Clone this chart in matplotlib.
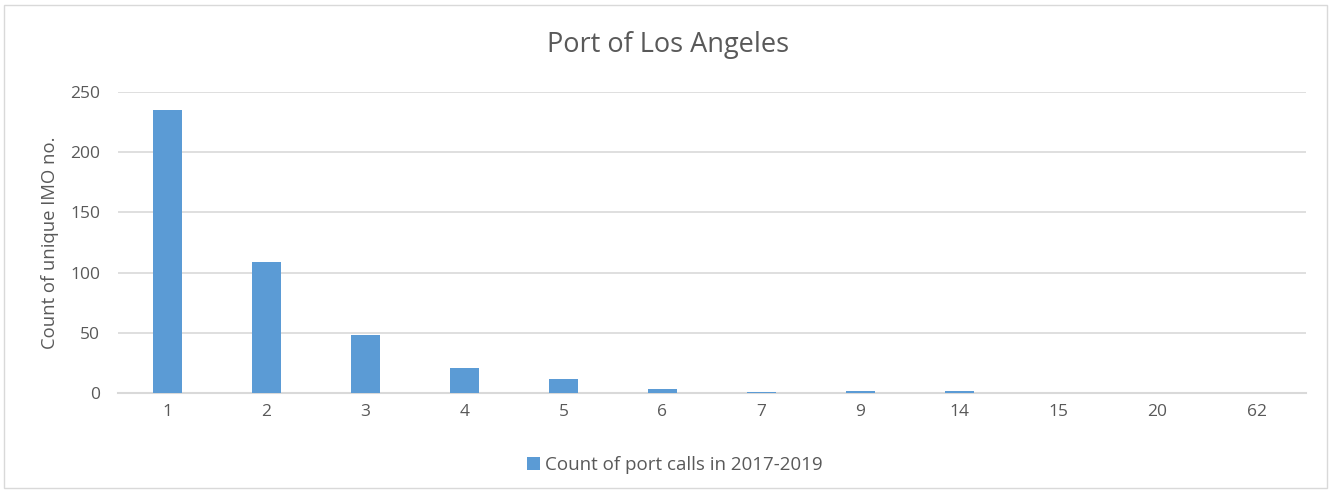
import matplotlib
matplotlib.use('Agg')
import numpy as np
import matplotlib.pyplot as plt
from matplotlib.patches import Rectangle

# port calls per ship vs number of unique IMO numbers
categories = ['1', '2', '3', '4', '5', '6', '7', '9', '14', '15', '20', '62']
counts = [235, 109, 48, 21, 12, 3, 1, 2, 2, 0, 0, 0]

plt.rcParams['font.family'] = ['Open Sans', 'DejaVu Sans']
txt = '#595959'
grid = '#d9d9d9'
bar_color = '#5b9bd5'

fig = plt.figure(figsize=(13.31, 4.93), dpi=100)
ax = fig.add_axes([118/1331, 1-393/493, (1306-118)/1331, (393-92)/493])

x = np.arange(len(categories))
ax.bar(x, counts, width=0.3, color=bar_color, label='Count of port calls in 2017-2019', zorder=3)

ax.set_xlim(-0.5, len(categories) - 0.5)
ax.set_ylim(0, 250)
ax.set_yticks(range(0, 251, 50))
ax.set_xticks(x)
ax.set_xticklabels(categories)
ax.tick_params(axis='both', length=0, colors=txt, labelsize=12.5)
ax.tick_params(axis='x', pad=8)
ax.tick_params(axis='y', pad=13)
ax.grid(axis='y', color=grid, linewidth=1.2, zorder=0)
for s in ['top', 'right', 'left']:
    ax.spines[s].set_visible(False)
ax.spines['bottom'].set_color(grid)
ax.spines['bottom'].set_linewidth(1.5)

ax.set_ylabel('Count of unique IMO no.', color=txt, fontsize=13.3, labelpad=8)
fig.text(0.502, 1-45/493, 'Port of Los Angeles', ha='center', va='center', fontsize=19.5, color=txt)

fig.legend(loc='center', bbox_to_anchor=(0.507, 1-465/493), frameon=False, fontsize=13.5,
           handlelength=0.7, handleheight=0.7, handletextpad=0.3, labelcolor=txt)

# thin frame around the chart area
fig.patches.append(Rectangle((0.003, 0.01), 0.994, 0.98, transform=fig.transFigure,
                             fill=False, edgecolor=grid, linewidth=1))

fig.savefig('out.png', dpi=100, facecolor='white')
